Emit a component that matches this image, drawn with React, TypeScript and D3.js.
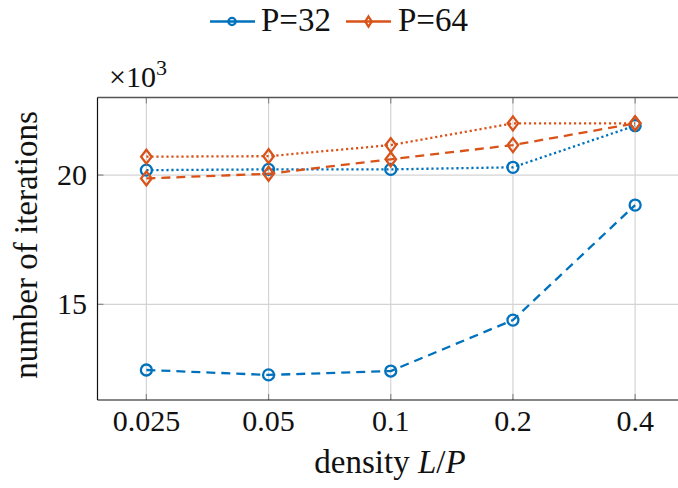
import * as d3 from 'd3';
import React from 'react';

// x categories (density L/P)
const categories = ['0.025', '0.05', '0.1', '0.2', '0.4'];

// number of iterations, x10^3
const p32Dashed = [12.46, 12.27, 12.42, 14.39, 18.84];
const p32Dotted = [20.19, 20.22, 20.22, 20.3, 21.91];
const p64Dashed = [19.87, 20.05, 20.61, 21.16, 22.0];
const p64Dotted = [20.71, 20.73, 21.16, 22.0, 22.0];

const yTicks = [15, 20];

const blue = '#0072BD';
const orange = '#D95319';
const font = "'Liberation Serif', 'DejaVu Serif', serif";

const W = 678;
const H = 488;
const plot = { left: 97.5, right: 684, top: 97.5, bottom: 400 };

export default function App() {
  const x = d3.scalePoint<string>()
    .domain(categories)
    .range([plot.left, plot.right])
    .padding(0.4);

  const y = d3.scaleLinear()
    .domain([11.3, 23])
    .range([plot.bottom, plot.top]);

  const line = d3.line<number>()
    .x((d, i) => x(categories[i]) as number)
    .y(d => y(d));

  const series = [
    { vals: p32Dashed, color: blue, dash: '9 6', mark: 'o' },
    { vals: p32Dotted, color: blue, dash: '2.2 2.8', mark: 'o' },
    { vals: p64Dashed, color: orange, dash: '9 6', mark: 'd' },
    { vals: p64Dotted, color: orange, dash: '2.2 2.8', mark: 'd' },
  ];

  const diamond = (cx: number, cy: number, w: number, h: number) =>
    `M${cx},${cy - h}L${cx + w},${cy}L${cx},${cy + h}L${cx - w},${cy}Z`;

  const marker = (m: string, cx: number, cy: number, color: string, small = false, key?: any) =>
    m === 'o'
      ? <circle key={key} cx={cx} cy={cy} r={small ? 3.6 : 5.5} fill="none" stroke={color} strokeWidth={2.3} />
      : <path key={key} d={small ? diamond(cx, cy, 3.2, 5) : diamond(cx, cy, 5.3, 7)}
          fill="none" stroke={color} strokeWidth={2.3} strokeLinejoin="miter" />;

  const tickLen = 6;
  const txt = { fontFamily: font, fill: '#111' };

  return (
    <svg width={W} height={H} style={{ position: 'absolute', left: 0, top: 0, background: '#fff', fontFamily: font }}>
      {/* grid */}
      {categories.map(c => (
        <line key={'gx' + c} x1={x(c)} x2={x(c)} y1={plot.top} y2={plot.bottom}
          stroke="#d4d4d4" strokeWidth={1.2} />
      ))}
      {yTicks.map(t => (
        <line key={'gy' + t} x1={plot.left} x2={plot.right} y1={y(t)} y2={y(t)}
          stroke="#d4d4d4" strokeWidth={1.2} />
      ))}
      {/* tick marks */}
      {categories.map(c => (
        <g key={'tx' + c} stroke="#8a8a8a" strokeWidth={1.2}>
          <line x1={x(c)} x2={x(c)} y1={plot.bottom} y2={plot.bottom - tickLen} />
          <line x1={x(c)} x2={x(c)} y1={plot.top} y2={plot.top + tickLen} />
        </g>
      ))}
      {yTicks.map(t => (
        <g key={'ty' + t} stroke="#8a8a8a" strokeWidth={1.2}>
          <line x1={plot.left} x2={plot.left + tickLen} y1={y(t)} y2={y(t)} />
          <line x1={plot.right - tickLen} x2={plot.right} y1={y(t)} y2={y(t)} />
        </g>
      ))}

      {/* series */}
      {series.map((s, i) => (
        <g key={'s' + i}>
          <path d={line(s.vals) as string} fill="none" stroke={s.color} strokeWidth={2.3}
            strokeDasharray={s.dash} />
          {s.vals.map((v, j) => marker(s.mark, x(categories[j]) as number, y(v), s.color, false, j))}
        </g>
      ))}

      {/* frame */}
      <line x1={plot.left} x2={plot.right} y1={plot.top} y2={plot.top} stroke="#555" strokeWidth={1.4} />
      <line x1={plot.left} x2={plot.left} y1={plot.top} y2={plot.bottom} stroke="#111" strokeWidth={1.2} />
      <line x1={plot.left} x2={plot.right} y1={plot.bottom} y2={plot.bottom} stroke="#111" strokeWidth={1.2} />

      {/* tick labels */}
      {categories.map(c => (
        <text key={'lx' + c} x={x(c)} y={431} textAnchor="middle" fontSize={30} style={txt}>{c}</text>
      ))}
      {yTicks.map(t => (
        <text key={'ly' + t} x={87} y={y(t) + 10} textAnchor="end" fontSize={30} style={txt}>{t}</text>
      ))}
      <text x={109} y={87} fontSize={30} style={txt}>
        ×10<tspan dy={-12} fontSize={22}>3</tspan>
      </text>

      {/* axis labels */}
      <text x={390} y={473} textAnchor="middle" fontSize={33} style={txt}>
        density <tspan fontStyle="italic">L</tspan>/<tspan fontStyle="italic">P</tspan>
      </text>
      <text transform="translate(37,245) rotate(-90)" textAnchor="middle" fontSize={33}
        style={txt}>number of iterations</text>

      {/* legend */}
      <g>
        <line x1={210} x2={255} y1={21.5} y2={21.5} stroke={blue} strokeWidth={2.4} />
        {marker('o', 232, 21.5, blue, true)}
        <text x={261} y={31} fontSize={33} style={txt}>P=32</text>
        <line x1={346} x2={391} y1={21.5} y2={21.5} stroke={orange} strokeWidth={2.4} />
        {marker('d', 368.5, 21.5, orange, true)}
        <text x={398} y={31} fontSize={33} style={txt}>P=64</text>
      </g>
    </svg>
  );
}
